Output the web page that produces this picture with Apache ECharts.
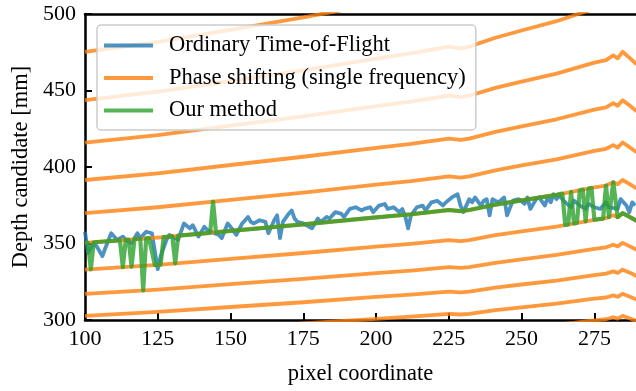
<!DOCTYPE html>
<html>
<head>
<meta charset="utf-8">
<script src="https://cdn.jsdelivr.net/npm/echarts@6/dist/echarts.min.js"></script>
<style>
  html, body { margin: 0; padding: 0; background: #fff; }
  #chart { width: 636px; height: 391px; }
</style>
</head>
<body>
<div id="chart"></div>
<script>
// names of the three curves
const tofName = 'Ordinary Time-of-Flight';
const phaseName = 'Phase shifting (single frequency)';
const oursName = 'Our method';

// tick labels
const xTicks = [100, 125, 150, 175, 200, 225, 250, 275];
const yTicks = [300, 350, 400, 450, 500];

// phase shifting: every wrapped depth candidate, read at these pixel columns
const phaseX = [100, 125, 150, 175, 200, 212, 225, 229, 232, 241, 250, 262, 275, 279, 281.5, 283, 284.7, 287, 289.5];
const phaseDepths = [
  [277.5, 279.6, 282.3, 285.0, 287.9, 289.1, 290.8, 290.4, 290.8, 292.9, 294.6, 296.8, 299.8, 300.5, 301.8, 300.9, 302.7, 301.1, 299.3],
  [289.5, 291.9, 294.8, 297.7, 300.8, 302.2, 304.0, 303.6, 304.0, 306.4, 308.3, 310.7, 313.9, 314.7, 316.1, 315.2, 317.1, 315.4, 313.4],
  [302.7, 305.3, 308.5, 311.6, 315.1, 316.6, 318.6, 318.1, 318.6, 321.1, 323.2, 325.8, 329.4, 330.3, 331.8, 330.8, 332.9, 331.0, 328.8],
  [317.1, 319.9, 323.4, 326.9, 330.7, 332.3, 334.6, 334.0, 334.6, 337.4, 339.7, 342.6, 346.5, 347.5, 349.2, 348.1, 350.4, 348.3, 345.9],
  [332.9, 336.0, 339.9, 343.8, 348.0, 349.8, 352.2, 351.6, 352.2, 355.4, 357.9, 361.1, 365.5, 366.6, 368.5, 367.2, 369.8, 367.5, 364.8],
  [350.4, 353.9, 358.2, 362.5, 367.1, 369.1, 371.9, 371.2, 371.9, 375.4, 378.2, 381.8, 386.7, 387.9, 390.0, 388.7, 391.5, 389.0, 386.0],
  [369.8, 373.7, 378.5, 383.3, 388.5, 390.8, 393.9, 393.1, 393.9, 397.8, 401.0, 405.0, 410.5, 411.9, 414.3, 412.7, 416.0, 413.1, 409.7],
  [391.5, 395.9, 401.3, 406.7, 412.5, 415.1, 418.6, 417.7, 418.6, 423.0, 426.6, 431.2, 437.5, 439.0, 441.7, 440.0, 443.7, 440.3, 436.5],
  [416.0, 420.9, 427.0, 433.1, 439.8, 442.7, 446.6, 445.6, 446.6, 451.7, 455.8, 461.0, 468.2, 469.9, 473.0, 471.0, 475.3, 471.5, 467.1],
  [443.7, 449.2, 456.2, 463.2, 470.8, 474.2, 478.7, 477.6, 478.7, 484.5, 489.2, 495.3, 503.5, 505.6, 509.2, 506.8, 511.8, 507.4, 502.3],
  [475.3, 481.7, 489.7, 497.8, 506.6, 510.5, 515.7, 514.4, 515.7, 522.5, 528.0, 535.1, 544.7, 547.1, 551.3, 548.6, 554.3, 549.2, 543.2]
];

// ordinary time-of-flight (noisy)
const tofX = [100, 101, 103, 104, 106, 107, 109, 111, 113, 114, 116, 118, 119, 121, 123, 125, 126, 128, 129, 130,
  132, 134, 136, 137, 139, 141, 142, 144, 146, 147, 149, 150, 152, 154, 156, 157, 158, 160, 162, 163,
  165, 166, 167, 168, 170, 171, 172, 173, 175, 176, 178, 180, 181, 183, 184, 186, 188, 189, 191, 193,
  195, 196, 198, 199, 201, 203, 204, 206, 208, 209, 210, 211, 212, 214, 216, 217, 219, 221, 223, 224,
  226, 228, 229, 230, 232, 233, 234, 236, 237, 238, 239, 240, 242, 244, 245, 247, 249, 251, 252, 253,
  255, 256, 258, 259, 260, 261, 262, 263, 265, 267, 268, 270, 272, 273, 275, 277, 279, 280, 283, 284,
  286, 287, 288, 289];
const tofY = [357.7, 343.9, 350.3, 348.2, 341.7, 347.1, 356.7, 352.4, 354.5, 352.4, 350.3, 356.7, 353.5, 357.7, 356.7, 333.2, 341.7, 352.4, 355.6, 354.5,
  352.4, 363.1, 359.9, 362.0, 354.5, 360.9, 358.8, 357.0, 355.6, 353.5, 363.1, 360.9, 355.6, 363.1, 367.3, 364.1, 363.1, 365.2, 364.1, 356.7,
  365.2, 368.4, 353.5, 364.1, 369.5, 371.6, 366.3, 364.1, 363.1, 362.0, 359.9, 366.3, 364.1, 367.4, 366.3, 370.5, 369.5, 367.4, 372.6, 373.7,
  371.6, 372.6, 373.7, 370.5, 374.8, 375.8, 372.6, 373.7, 370.5, 372.6, 368.0, 359.9, 368.4, 373.7, 374.8, 371.6, 376.9, 377.9, 374.8, 376.9,
  380.1, 382.2, 374.8, 370.5, 379.0, 376.9, 380.1, 374.8, 378.0, 379.0, 368.4, 379.0, 376.9, 380.1, 368.4, 378.0, 379.0, 375.9, 380.1, 372.6,
  379.0, 380.1, 374.8, 380.1, 376.9, 382.2, 379.0, 381.2, 376.9, 373.7, 378.0, 374.8, 372.6, 375.9, 373.7, 372.6, 376.9, 373.7, 372.6, 379.0,
  374.8, 370.5, 376.9, 374.8];

// our method: picks one candidate per column
const oursX = [100, 101, 102, 103, 112, 113, 114, 115, 116, 117, 119, 120, 121, 122, 124, 126, 127, 130, 131, 132,
  143, 144, 145, 150, 175, 200, 212, 225, 229, 232, 241, 250, 262, 264, 265, 266, 267, 268, 269, 270,
  271, 272, 273, 274, 275, 278, 279, 280, 281.5, 283, 284.7, 287, 289.5];
const oursY = [350.4, 350.5, 333.1, 350.8, 352.1, 334.5, 352.4, 352.5, 334.9, 352.8, 353.1, 319.3, 353.3, 353.5, 335.9, 336.2, 354.2, 354.7, 337.0, 355.1,
  357.0, 377.3, 357.3, 358.2, 362.5, 367.1, 369.1, 371.9, 371.2, 371.9, 375.4, 378.2, 381.8, 382.6, 362.1, 362.5, 383.7, 363.1, 363.5, 384.8,
  385.2, 364.5, 385.9, 386.3, 365.5, 366.3, 387.9, 367.2, 390.0, 367.2, 369.8, 367.5, 364.8];

const FONT = 'Liberation Serif';
const BLUE = 'rgba(31,119,180,0.8)';
const ORANGE = 'rgba(255,127,14,0.8)';
const GREEN = 'rgba(44,160,44,0.8)';

const pairs = (xs, ys) => xs.map((x, i) => [x, ys[i]]);

let chart = echarts.init(document.getElementById('chart'));

let series = [];
series.push({
  name: tofName, type: 'line', data: pairs(tofX, tofY),
  showSymbol: false, color: BLUE, lineStyle: {width: 3.8, join: 'round'}
});
phaseDepths.forEach((depths) => {
  series.push({
    name: phaseName, type: 'line', data: pairs(phaseX, depths),
    showSymbol: false, color: ORANGE, lineStyle: {width: 3.8, join: 'round'}
  });
});
series.push({
  name: oursName, type: 'line', data: pairs(oursX, oursY),
  showSymbol: false, color: GREEN, lineStyle: {width: 4.2, join: 'round'}
});

let option = {
  animation: false,
  backgroundColor: '#fff',
  grid: {left: 85, right: 0, top: 14, bottom: 64, containLabel: false},
  legend: {
    orient: 'vertical', left: 97, top: 25,
    data: [tofName, phaseName, oursName],
    icon: 'rect', itemWidth: 49, itemHeight: 4, itemGap: 9.5,
    padding: [9, 10, 8, 7],
    backgroundColor: 'rgba(255,255,255,0.8)',
    borderColor: '#cccccc', borderWidth: 1.5, borderRadius: 4,
    textStyle: {fontFamily: FONT, fontSize: 22.5, color: '#000', padding: [0, 0, 0, 11]}
  },
  xAxis: [{
    type: 'value', min: 100, max: 289.3, interval: 25, position: 'bottom',
    name: 'pixel coordinate', nameLocation: 'middle', nameGap: 43,
    nameTextStyle: {fontFamily: FONT, fontSize: 22.5, color: '#000'},
    axisLine: {show: true, onZero: false, lineStyle: {color: '#000', width: 2.5}},
    axisTick: {show: true, inside: true, length: 7, lineStyle: {color: '#000', width: 2}, customValues: xTicks},
    axisLabel: {fontFamily: FONT, fontSize: 22, color: '#000', margin: 8, customValues: xTicks,
      formatter: (v) => (v % 25 === 0 ? String(v) : '')},
    splitLine: {show: false}
  }, {
    type: 'value', min: 100, max: 289.3, position: 'top',
    axisLine: {show: true, onZero: false, lineStyle: {color: '#000', width: 2.5}},
    axisTick: {show: false}, axisLabel: {show: false}, splitLine: {show: false}
  }],
  yAxis: {
    type: 'value', min: 300, max: 500, interval: 50,
    name: 'Depth candidate [mm]', nameLocation: 'middle', nameGap: 52,
    nameTextStyle: {fontFamily: FONT, fontSize: 22.5, color: '#000'},
    axisLine: {show: true, onZero: false, lineStyle: {color: '#000', width: 2.5}},
    axisTick: {show: true, inside: true, length: 7, lineStyle: {color: '#000', width: 2}, customValues: yTicks},
    axisLabel: {fontFamily: FONT, fontSize: 22, color: '#000', margin: 9, customValues: yTicks},
    splitLine: {show: false}
  },
  series: series
};
chart.setOption(option);
</script>
</body>
</html>
